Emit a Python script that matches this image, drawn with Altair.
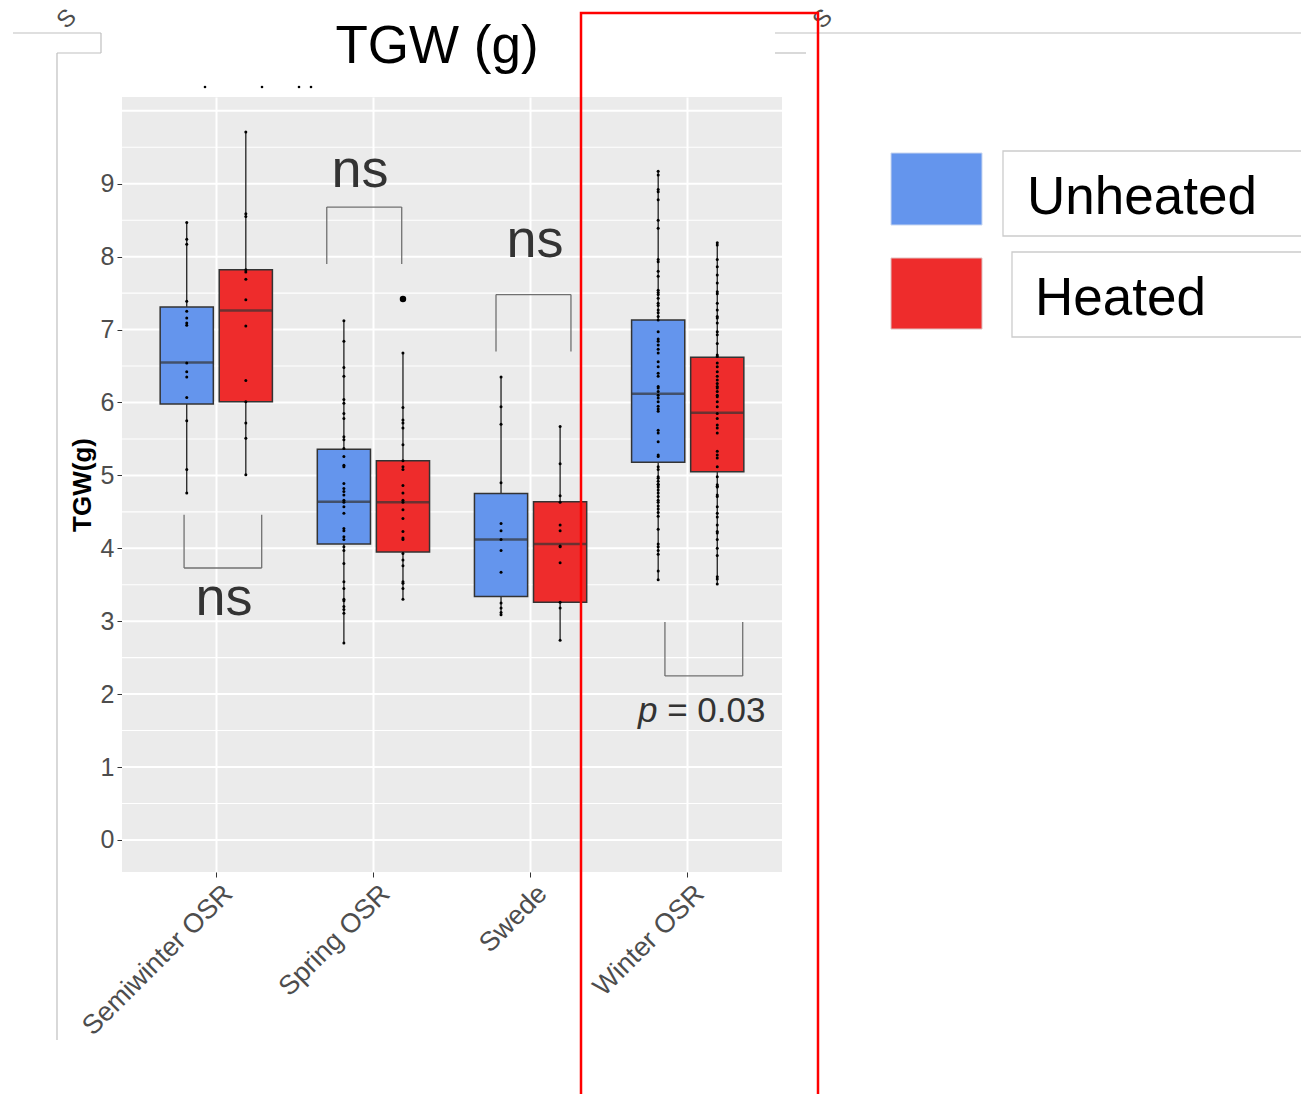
import altair as alt
import pandas as pd

# ---------------- data ----------------
categories = ["Semiwinter OSR", "Spring OSR", "Swede", "Winter OSR"]
treatments = ["Unheated", "Heated"]
treat_colors = ["#6495ED", "#EE2C2C"]

# box statistics per category
unheated_q1 = [5.98, 4.06, 3.34, 5.18]
unheated_median = [6.55, 4.64, 4.12, 6.12]
unheated_q3 = [7.31, 5.36, 4.75, 7.13]
unheated_lo = [4.76, 2.70, 3.09, 3.57]
unheated_hi = [8.47, 7.12, 6.35, 9.17]

heated_q1 = [6.01, 3.95, 3.26, 5.05]
heated_median = [7.26, 4.63, 4.06, 5.86]
heated_q3 = [7.82, 5.20, 4.64, 6.62]
heated_lo = [5.01, 3.30, 2.74, 3.51]
heated_hi = [9.71, 6.68, 5.67, 8.19]

# individual observations
semi_unheated = [8.47, 8.24, 8.17, 7.39, 7.25, 7.16, 7.09, 7.06, 6.54, 6.42, 6.35, 6.07, 5.75, 5.08, 4.76]
semi_heated = [9.71, 8.59, 8.55, 7.82, 7.79, 7.69, 7.41, 7.05, 6.30, 6.01, 5.72, 5.51, 5.01]
spring_unheated = [7.12, 6.84, 6.48, 6.36, 6.04, 5.99, 5.85, 5.78, 5.53, 5.49, 5.37, 5.26, 5.14, 5.12,
                   4.89, 4.82, 4.78, 4.73, 4.66, 4.63, 4.57, 4.48, 4.27, 4.24, 4.16, 4.12, 4.02, 3.97,
                   3.79, 3.54, 3.45, 3.30, 3.28, 3.20, 3.16, 3.11, 2.70]
spring_heated = [7.42, 6.68, 5.93, 5.76, 5.72, 5.65, 5.42, 5.20, 5.12, 5.08, 4.86, 4.76, 4.66, 4.63,
                 4.53, 4.41, 4.23, 4.14, 4.12, 3.93, 3.84, 3.76, 3.54, 3.52, 3.45, 3.30]
swede_unheated = [6.35, 5.94, 5.70, 4.90, 4.34, 4.24, 4.12, 3.97, 3.67, 3.25, 3.18, 3.12, 3.09]
swede_heated = [5.67, 5.16, 4.72, 4.63, 4.32, 4.24, 4.03, 4.02, 3.80, 3.26, 3.18, 2.74]
winter_unheated = [9.17, 9.12, 8.92, 8.89, 8.78, 8.50, 8.39, 7.96, 7.93, 7.80, 7.73, 7.54, 7.51, 7.48,
                   7.43, 7.36, 7.33, 7.27, 7.23, 7.18, 7.13, 6.97, 6.87, 6.84, 6.79, 6.73, 6.68, 6.56,
                   6.49, 6.40, 6.36, 6.22, 6.20, 6.15, 6.10, 6.06, 6.01, 5.95, 5.91, 5.88, 5.62, 5.58,
                   5.46, 5.28, 5.26, 5.12, 5.08, 4.98, 4.96, 4.92, 4.87, 4.88, 4.84, 4.80, 4.76, 4.71,
                   4.66, 4.63, 4.58, 4.54, 4.49, 4.44, 4.26, 4.06, 4.02, 3.97, 3.92, 3.69, 3.57]
winter_heated = [8.19, 8.16, 7.96, 7.86, 7.75, 7.64, 7.52, 7.49, 7.36, 7.27, 7.18, 7.16, 7.09, 6.97,
                 6.93, 6.81, 6.65, 6.63, 6.54, 6.49, 6.42, 6.36, 6.31, 6.26, 6.22, 6.20, 6.15, 6.10,
                 6.08, 6.01, 5.94, 5.85, 5.78, 5.69, 5.65, 5.58, 5.33, 5.28, 5.24, 5.12, 4.98, 4.84,
                 4.87, 4.85, 4.73, 4.71, 4.57, 4.48, 4.43, 4.32, 4.23, 4.21, 4.12, 4.00, 3.90, 3.61,
                 3.58, 3.51]

outlier_cat = ["Spring OSR"]
outlier_trt = ["Heated"]
outlier_val = [7.42]

# significance brackets (x in category units, 1..4)
bracket_left = [0.795, 1.703, 2.780, 3.855]
bracket_right = [1.289, 2.180, 3.257, 4.350]
bracket_bar = [3.73, 8.68, 7.48, 2.25]
bracket_tip = [4.46, 7.90, 6.70, 2.99]
ns_x = [1.049, 1.915, 3.028]
ns_y = [3.09, 8.96, 8.00]
p_letter_x = [3.684]
p_rest_x = [3.869]
p_y = [1.62]

y_grid_major = [0, 1, 2, 3, 4, 5, 6, 7, 8, 9, 10]
y_grid_minor = [0.5, 1.5, 2.5, 3.5, 4.5, 5.5, 6.5, 7.5, 8.5, 9.5]
y_tick_values = [0, 1, 2, 3, 4, 5, 6, 7, 8, 9]

# ---------------- tables ----------------
box_rows = []
for i, c in enumerate(categories):
    box_rows.append(dict(cat=c, trt="Unheated", q1=unheated_q1[i], med=unheated_median[i],
                         q3=unheated_q3[i], lo=unheated_lo[i], hi=unheated_hi[i]))
    box_rows.append(dict(cat=c, trt="Heated", q1=heated_q1[i], med=heated_median[i],
                         q3=heated_q3[i], lo=heated_lo[i], hi=heated_hi[i]))
box_df = pd.DataFrame(box_rows)

obs = {
    ("Semiwinter OSR", "Unheated"): semi_unheated,
    ("Semiwinter OSR", "Heated"): semi_heated,
    ("Spring OSR", "Unheated"): spring_unheated,
    ("Spring OSR", "Heated"): spring_heated,
    ("Swede", "Unheated"): swede_unheated,
    ("Swede", "Heated"): swede_heated,
    ("Winter OSR", "Unheated"): winter_unheated,
    ("Winter OSR", "Heated"): winter_heated,
}
pt_df = pd.DataFrame([{"cat": c, "trt": t, "v": v} for (c, t), vals in obs.items() for v in vals])
out_df = pd.DataFrame({"cat": outlier_cat, "trt": outlier_trt, "v": outlier_val})
br_df = pd.DataFrame({"l": bracket_left, "r": bracket_right, "bar": bracket_bar, "tip": bracket_tip})
ns_df = pd.DataFrame({"x": ns_x, "y": ns_y, "t": ["ns"] * len(ns_x)})
p1_df = pd.DataFrame({"x": p_letter_x, "y": p_y, "t": ["p"]})
p2_df = pd.DataFrame({"x": p_rest_x, "y": p_y, "t": ["= 0.03"]})
major_df = pd.DataFrame({"g": y_grid_major})
minor_df = pd.DataFrame({"g": y_grid_minor})
one = pd.DataFrame({"a": [0]})

# ---------------- styling ----------------
FONT = "Liberation Sans"
W, H = 660, 775
PAD_L, PAD_T = 122, 97

y_scale = alt.Scale(domain=[-0.44, 10.19], nice=False, zero=False)
x_scale = alt.Scale(domain=categories, paddingInner=0, paddingOuter=0.1)
xo = alt.XOffset("trt:N", scale=alt.Scale(domain=treatments, paddingInner=0.1, paddingOuter=0.38))

x_axis = alt.Axis(title=None, labelAngle=-45, labelAlign="right", labelBaseline="top",
                  labelFontSize=27, labelColor="#4D4D4D", labelFont=FONT, labelPadding=3,
                  labelOffset=3, labelLimit=1000, tickColor="#333333", tickSize=5, domain=False,
                  grid=True, gridColor="white", gridWidth=2, bandPosition=0.5)
y_axis = alt.Axis(values=y_tick_values, format="d", title="TGW(g)", titleFont=FONT, titleFontSize=26,
                  titleFontWeight="bold", titleColor="black", titlePadding=5,
                  labelFontSize=25, labelColor="#4D4D4D", labelFont=FONT, labelPadding=3,
                  tickColor="#333333", tickSize=5, domain=False, grid=False)

xa = alt.X("cat:N", scale=x_scale, axis=x_axis, sort=categories)

major = alt.Chart(major_df).mark_rule(color="white", strokeWidth=2).encode(
    y=alt.Y("g:Q", scale=y_scale, axis=y_axis))
minor = alt.Chart(minor_df).mark_rule(color="white", strokeWidth=1.1).encode(
    y=alt.Y("g:Q", scale=y_scale, axis=y_axis))

whisk = alt.Chart(box_df).mark_rule(color="#111111", strokeWidth=1.2).encode(
    x=xa, xOffset=xo, y=alt.Y("lo:Q", scale=y_scale, axis=y_axis), y2="hi:Q")
boxes = alt.Chart(box_df).mark_bar(stroke="#333333", strokeWidth=1.5, opacity=1).encode(
    x=xa, xOffset=xo, y=alt.Y("q1:Q", scale=y_scale, axis=y_axis), y2="q3:Q",
    color=alt.Color("trt:N", scale=alt.Scale(domain=treatments, range=treat_colors), legend=None))
medians = alt.Chart(box_df).mark_tick(color="#333333", thickness=2.5, size=53).encode(
    x=xa, xOffset=xo, y=alt.Y("med:Q", scale=y_scale, axis=y_axis))
pts = alt.Chart(pt_df).mark_circle(color="black", size=9, opacity=1).encode(
    x=xa, xOffset=xo, y=alt.Y("v:Q", scale=y_scale, axis=y_axis))
outl = alt.Chart(out_df).mark_circle(color="black", size=42, opacity=1).encode(
    x=xa, xOffset=xo, y=alt.Y("v:Q", scale=y_scale, axis=y_axis))

main = alt.layer(major, minor, whisk, boxes, medians, pts, outl)

qx = alt.Scale(domain=[0.4, 4.6], nice=False, zero=False)
br_col = "#707070"
br_h = alt.Chart(br_df).mark_rule(color=br_col, strokeWidth=1.3).encode(
    x=alt.X("l:Q", scale=qx, axis=None), x2="r:Q", y=alt.Y("bar:Q", scale=y_scale, axis=y_axis))
br_l = alt.Chart(br_df).mark_rule(color=br_col, strokeWidth=1.3).encode(
    x=alt.X("l:Q", scale=qx, axis=None), y=alt.Y("bar:Q", scale=y_scale, axis=y_axis), y2="tip:Q")
br_r = alt.Chart(br_df).mark_rule(color=br_col, strokeWidth=1.3).encode(
    x=alt.X("r:Q", scale=qx, axis=None), y=alt.Y("bar:Q", scale=y_scale, axis=y_axis), y2="tip:Q")
ns_txt = alt.Chart(ns_df).mark_text(font=FONT, fontSize=54, color="#333333", align="center",
                                     baseline="alphabetic").encode(
    x=alt.X("x:Q", scale=qx, axis=None), y=alt.Y("y:Q", scale=y_scale, axis=y_axis), text="t:N")
p1_txt = alt.Chart(p1_df).mark_text(font=FONT, fontSize=35, color="#333333", align="left",
                                     baseline="alphabetic", fontStyle="italic").encode(
    x=alt.X("x:Q", scale=qx, axis=None), y=alt.Y("y:Q", scale=y_scale, axis=y_axis), text="t:N")
p2_txt = alt.Chart(p2_df).mark_text(font=FONT, fontSize=35, color="#333333", align="left",
                                     baseline="alphabetic").encode(
    x=alt.X("x:Q", scale=qx, axis=None), y=alt.Y("y:Q", scale=y_scale, axis=y_axis), text="t:N")

annot = alt.layer(br_h, br_l, br_r, ns_txt, p1_txt, p2_txt)


def px(v, axis):
    return v - (PAD_L if axis == "x" else PAD_T)


def rule(x1, y1, x2, y2, color="#BFBFBF", w=1.2):
    enc = dict(x=alt.value(px(x1, "x")), y=alt.value(px(y1, "y")))
    if x2 != x1:
        enc["x2"] = alt.value(px(x2, "x"))
    if y2 != y1:
        enc["y2"] = alt.value(px(y2, "y"))
    return alt.Chart(one).mark_rule(color=color, strokeWidth=w).encode(**enc)


def rect(x1, y1, x2, y2, **kw):
    return alt.Chart(one).mark_rect(**kw).encode(
        x=alt.value(px(x1, "x")), x2=alt.value(px(x2, "x")),
        y=alt.value(px(y1, "y")), y2=alt.value(px(y2, "y")))


def text(s, x, y, **kw):
    return alt.Chart(one).mark_text(font=FONT, **kw).encode(
        x=alt.value(px(x, "x")), y=alt.value(px(y, "y")), text=alt.value(s))


deco = [
    rule(13, 33, 101, 33), rule(101, 33, 101, 53), rule(57, 53, 101, 53), rule(57, 53, 57, 1040),
    rule(775, 33, 1301, 33), rule(775, 53, 806, 53),
    text("S", 72, 24, fontSize=24, color="#4D4D4D", angle=315, align="center", baseline="alphabetic"),
    text("S", 828, 24, fontSize=24, color="#4D4D4D", angle=315, align="center", baseline="alphabetic"),
    text("TGW (g)", 437, 63, fontSize=53, color="black", align="center", baseline="alphabetic"),
    # legend
    rect(891, 153, 982, 225, color="#6495ED", stroke="#C8D6F0", strokeWidth=1),
    rect(891, 258, 982, 329, color="#EE2C2C", stroke="#E0C0C0", strokeWidth=1),
    rect(1003, 151, 1305, 236, fill="white", fillOpacity=0, stroke="#CCCCCC", strokeWidth=1.3),
    rect(1012, 252, 1305, 337, fill="white", fillOpacity=0, stroke="#CCCCCC", strokeWidth=1.3),
    text("Unheated", 1027, 214, fontSize=53, color="black", align="left", baseline="alphabetic"),
    text("Heated", 1035, 315, fontSize=53, color="black", align="left", baseline="alphabetic"),
]
for dx in [205, 262, 299, 311]:
    deco.append(alt.Chart(one).mark_circle(color="black", size=7, opacity=1).encode(
        x=alt.value(px(dx, "x")), y=alt.value(px(87, "y"))))
deco.append(rect(581, 13, 818, 1100, fill="white", fillOpacity=0, stroke="#FF0000", strokeWidth=2.5))

chart = alt.layer(main, annot, *deco).resolve_scale(x="independent").properties(
    width=W, height=H,
    autosize=alt.AutoSizeParams(type="none"),
    padding={"left": PAD_L, "top": PAD_T, "right": 1301 - PAD_L - W, "bottom": 1094 - PAD_T - H},
    background="white",
).configure_view(fill="#EBEBEB", stroke=None)

chart.save("out.html", embed_options={"renderer": "svg", "actions": False})
